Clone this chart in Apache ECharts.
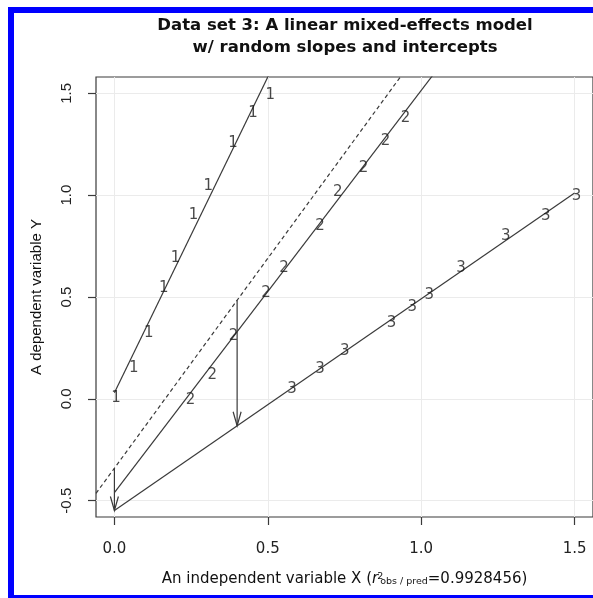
<!DOCTYPE html>
<html>
<head>
<meta charset="utf-8">
<title>Data set 3</title>
<script src="https://cdn.jsdelivr.net/npm/echarts@6/dist/echarts.min.js"></script>
<style>html,body{margin:0;padding:0;background:#fff;}</style>
</head>
<body>
<div id="main" style="width:593px;height:598px;"></div>
<script type="text/javascript">
var xTicks = [0, 0.5, 1.0, 1.5];
var yTicks = [-0.5, 0, 0.5, 1.0, 1.5];

// observed points of each group (drawn as the group number)
var obs1 = [[0.005,0.006],[0.063,0.153],[0.112,0.325],[0.161,0.546],[0.199,0.693],
            [0.258,0.904],[0.306,1.046],[0.387,1.256],[0.452,1.403],[0.508,1.492]];
var obs2 = [[0.248,-0.008],[0.319,0.119],[0.388,0.31],[0.494,0.521],[0.553,0.644],
            [0.67,0.85],[0.728,1.016],[0.812,1.134],[0.884,1.266],[0.949,1.379]];
var obs3 = [[0.579,0.046],[0.67,0.144],[0.751,0.232],[0.903,0.374],[0.971,0.452],
            [1.026,0.511],[1.13,0.644],[1.276,0.8],[1.406,0.898],[1.506,0.996]];

// fitted lines per group, and the population (fixed effects) line
var fit1 = [[0, 0.03], [0.54, 1.704]];
var fit2 = [[0, -0.46], [1.08, 1.672]];
var fit3 = [[0, -0.548], [1.5, 1.01]];
var fixedLine = [[-0.06, -0.464], [0.98, 1.679]];

// arrows: x, from y, to y
var arrows = [[0, -0.34, -0.548], [0.4, 0.484, -0.132]];

var ink = '#3a3a3a';
var font = 'Liberation Sans';
var wide = 'DejaVu Sans';

var myChart = echarts.init(document.getElementById('main'));

function obsSeries(name, pts){
    return {
        name: name,
        type: 'scatter',
        data: pts,
        symbol: 'circle',
        symbolSize: 1,
        itemStyle: {color: 'rgba(0,0,0,0)'},
        label: {
            show: true,
            position: 'inside',
            formatter: name,
            fontFamily: wide,
            fontSize: 15,
            color: '#1a1a1a'
        },
        z: 5
    };
}
function fitSeries(pts, dashed){
    return {
        type: 'line',
        data: pts,
        showSymbol: false,
        symbol: 'none',
        lineStyle: {color: ink, width: 1.2, type: dashed ? [4, 3] : 'solid'},
        silent: true,
        z: 3
    };
}

var option = {
    animation: false,
    textStyle: {fontFamily: font},
    grid: {
        left: 96, top: 77, width: 503, height: 440,
        show: true, borderColor: ink, borderWidth: 1.2,
        containLabel: false
    },
    graphic: [
        {type: 'rect', shape: {x: 8, y: 7, width: 6, height: 591}, style: {fill: '#0000ff'}},
        {type: 'rect', shape: {x: 8, y: 7, width: 600, height: 6}, style: {fill: '#0000ff'}},
        {type: 'rect', shape: {x: 8, y: 595, width: 600, height: 3}, style: {fill: '#0000ff'}},
        {
            type: 'text', x: 345, y: 37,
            style: {
                text: 'Data set 3: A linear mixed-effects model\nw/ random slopes and intercepts',
                align: 'center', verticalAlign: 'middle',
                fontFamily: wide, fontWeight: 'bold', fontSize: 16.5, lineHeight: 22,
                fill: '#111'
            }
        }
    ],
    xAxis: {
        type: 'value',
        min: -0.06, max: 1.56,
        name: 'An independent variable X ({i|r}{sup|2}{sub|obs / pred}=0.9928456)',
        nameLocation: 'middle',
        nameGap: 55,
        nameTextStyle: {
            fontSize: 15, color: '#111', fontFamily: wide,
            rich: {
                i: {fontSize: 15, fontStyle: 'italic', fontFamily: wide, color: '#111', padding: [0, 2, 0, 0]},
                sup: {fontSize: 9.5, width: 0, align: 'left', verticalAlign: 'top', fontFamily: wide, color: '#111'},
                sub: {fontSize: 9.5, verticalAlign: 'bottom', fontFamily: wide, color: '#111'}
            }
        },
        axisLine: {show: false, onZero: false},
        axisTick: {show: true, length: 8, customValues: xTicks, lineStyle: {color: ink, width: 1.2}},
        axisLabel: {
            customValues: xTicks, margin: 25, fontSize: 15, fontFamily: wide, color: '#222',
            formatter: function(v){ return v.toFixed(1); }
        },
        splitLine: {show: true, lineStyle: {color: '#ebebeb', width: 1}}
    },
    yAxis: {
        type: 'value',
        min: -0.58, max: 1.58,
        name: 'A dependent variable Y',
        nameLocation: 'middle',
        nameGap: 52,
        nameTextStyle: {fontSize: 15, color: '#111'},
        axisLine: {show: false, onZero: false},
        axisTick: {show: true, length: 8, customValues: yTicks, lineStyle: {color: ink, width: 1.2}},
        axisLabel: {
            customValues: yTicks, margin: 22, fontSize: 15, color: '#222', rotate: 90,
            formatter: function(v){ return v.toFixed(1); }
        },
        splitLine: {show: true, lineStyle: {color: '#ebebeb', width: 1}}
    },
    series: [
        fitSeries(fixedLine, true),
        fitSeries(fit1),
        fitSeries(fit2),
        fitSeries(fit3),
        {
            type: 'custom',
            data: arrows,
            encode: {x: 0, y: [1, 2]},
            clip: true,
            z: 4,
            renderItem: function(params, api){
                var top = api.coord([api.value(0), api.value(1)]);
                var bot = api.coord([api.value(0), api.value(2)]);
                var h = 14, w = 4;
                return {
                    type: 'group',
                    children: [
                        {type: 'line', shape: {x1: top[0], y1: top[1], x2: bot[0], y2: bot[1]},
                         style: {stroke: ink, lineWidth: 1.2}},
                        {type: 'polyline', shape: {points: [[bot[0] - w, bot[1] - h], [bot[0], bot[1]], [bot[0] + w, bot[1] - h]]},
                         style: {stroke: ink, fill: null, lineWidth: 1.2}}
                    ]
                };
            }
        },
        obsSeries('1', obs1),
        obsSeries('2', obs2),
        obsSeries('3', obs3)
    ]
};
myChart.setOption(option);
</script>
</body>
</html>
